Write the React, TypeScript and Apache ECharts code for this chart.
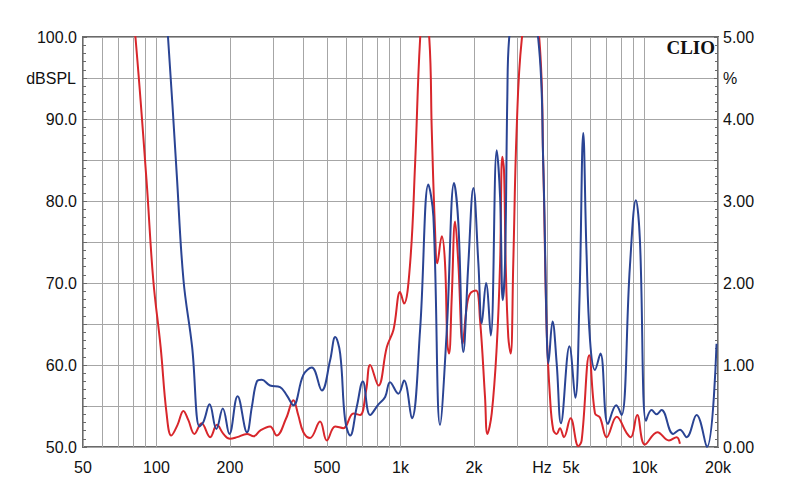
import React, { useEffect, useRef } from 'react';
import * as echarts from 'echarts';

const GRID_FREQS = [50, 60, 70, 80, 90, 100, 200, 300, 400, 500, 600, 700, 800, 900, 1000, 2000, 3000, 4000, 5000, 6000, 7000, 8000, 9000, 10000, 20000];
const LABEL_FREQS = [50, 100, 200, 500, 1000, 2000, 3800, 5000, 10000, 20000];
const LABEL_TEXTS = ['50', '100', '200', '500', '1k', '2k', 'Hz', '5k', '10k', '20k'];

const RED_FREQ = [80, 82, 91, 97, 104, 110, 115, 122, 129, 135, 143, 153, 166, 177, 188, 200, 214, 235, 250, 266, 292, 311, 340, 364, 381, 400, 426, 468, 499, 540, 584, 641, 683, 723, 751, 812, 879, 936, 996, 1034, 1095, 1148, 1203, 1249, 1313, 1343, 1385, 1415, 1476, 1522, 1556, 1581, 1622, 1674, 1726, 1799, 1868, 1928, 2040, 2118, 2220, 2270, 2365, 2479, 2559, 2612, 2655, 2698, 2765, 2829, 2898, 2992, 3140, 3395, 3707, 3845, 3972, 4098, 4225, 4365, 4502, 4675, 4977, 5355, 5525, 5935, 6265, 6565, 6995, 7690, 8450, 8790, 9330, 10035, 11295, 12590, 13535, 13965];
const RED_DB = [101.9, 100, 82.6, 70.4, 62.2, 54.1, 51.4, 52.7, 54.4, 53.3, 51.6, 52.9, 51.2, 52.7, 51.6, 51.0, 51.2, 51.6, 51.3, 52.0, 52.5, 51.4, 53.5, 55.7, 53.9, 51.8, 51.1, 53.1, 50.8, 52.5, 52.3, 54.1, 53.9, 56.9, 60.0, 57.5, 62.2, 64.3, 68.9, 67.5, 72.4, 84.6, 99.7, 103.9, 99.7, 88.7, 76.5, 72.4, 75.7, 72.4, 62.6, 61.4, 68.3, 77.5, 72.4, 62.6, 67.1, 68.7, 69.1, 65.5, 56.1, 51.6, 54.1, 62.2, 72.4, 85.4, 83.8, 72.4, 63.4, 61.4, 72.4, 88.7, 99.7, 104.6, 99.7, 84.6, 64.3, 56.1, 52.1, 51.6, 52.3, 51.2, 53.5, 50.1, 50.8, 61.2, 54.1, 53.6, 51.2, 53.7, 51.7, 51.2, 53.9, 50.3, 51.8, 50.8, 51.2, 50.4];

const BLUE_FREQ = [109, 111.5, 121, 129, 140, 150, 156, 165, 176, 187, 199, 215, 235, 246, 258, 270, 292, 321, 342, 364, 400, 433, 476, 515, 540, 566, 593, 622, 662, 701, 751, 812, 865, 906, 980, 1034, 1113, 1203, 1301, 1364, 1452, 1548, 1658, 1726, 1810, 1897, 1989, 2085, 2153, 2242, 2344, 2479, 2559, 2624, 2681, 2740, 2785, 3206, 3670, 3845, 3972, 4034, 4197, 4365, 4545, 4924, 5202, 5411, 5610, 5780, 5980, 6265, 6596, 7080, 7655, 8050, 8710, 9220, 9570, 10140, 10690, 11200, 11740, 13105, 13965, 14870, 16335, 18010, 19725];
const BLUE_DB = [102.7, 100, 83.4, 70.4, 62.2, 52.5, 53.1, 55.2, 52.2, 54.7, 51.6, 56.2, 51.8, 54.9, 58.0, 58.2, 57.5, 57.3, 56.3, 55.1, 58.8, 59.7, 56.9, 60.6, 63.4, 61.4, 53.3, 51.4, 54.9, 58.0, 53.9, 55.2, 56.1, 57.9, 56.5, 58.1, 53.5, 64.3, 82.0, 78.1, 52.7, 64.3, 82.2, 77.3, 61.6, 72.4, 81.6, 72.4, 65.1, 70.0, 63.6, 86.2, 80.5, 67.9, 72.4, 92.7, 99.7, 104.6, 99.7, 84.6, 64.3, 60.2, 65.3, 60.2, 52.9, 62.3, 56.0, 67.9, 88.3, 74.0, 63.0, 59.4, 61.4, 52.8, 55.1, 53.9, 72.0, 80.1, 75.3, 53.2, 54.5, 54.0, 54.5, 51.6, 52.1, 51.2, 53.9, 50.0, 62.6];

const FONT = 'Liberation Sans, Arial, sans-serif';

export default function App() {
  const ref = useRef<HTMLDivElement>(null);
  useEffect(() => {
    const chart = echarts.init(ref.current as HTMLDivElement, null, { renderer: 'svg' });
    const lg = (f: number) => Math.log10(f);
    const toData = (fs: number[], vs: number[]) => fs.map((f, i) => [lg(f), vs[i]]);
    const labelFor = (v: number) => {
      let best = '';
      let bd = 1e9;
      LABEL_FREQS.forEach((f, i) => {
        const d = Math.abs(lg(f) - v);
        if (d < bd) { bd = d; best = LABEL_TEXTS[i]; }
      });
      return bd < 0.01 ? best : '';
    };
    const isInt = (v: number) => Math.abs(v - Math.round(v)) < 1e-6;
    chart.setOption({
      animation: false,
      backgroundColor: '#ffffff',
      grid: { left: 83, right: 82, top: 37, bottom: 57, show: true, borderColor: '#6a6a6a', borderWidth: 2, backgroundColor: '#ffffff', containLabel: false },
      xAxis: {
        type: 'value',
        min: lg(50),
        max: lg(20000),
        axisLine: { show: false },
        axisTick: { show: false, customValues: GRID_FREQS.map(lg) },
        splitLine: { show: true, lineStyle: { color: '#a6a6a6', width: 1 } },
        axisLabel: {
          customValues: LABEL_FREQS.map(lg),
          formatter: labelFor,
          fontSize: 16,
          color: '#111',
          fontFamily: FONT,
          margin: 12,
          showMinLabel: true,
          showMaxLabel: true,
        },
      },
      yAxis: [
        {
          type: 'value',
          position: 'left',
          min: 50,
          max: 100,
          interval: 5,
          axisLine: { show: false },
          axisTick: { show: true, inside: true, length: 4, lineStyle: { color: '#6a6a6a' } },
          minorTick: { show: true, splitNumber: 5, length: 3, lineStyle: { color: '#6a6a6a' } },
          splitLine: { show: true, lineStyle: { color: '#a6a6a6', width: 1 } },
          axisLabel: { formatter: (v: number) => (isInt(v / 10) ? v.toFixed(1) : ''), fontSize: 16, color: '#111', fontFamily: FONT, margin: 6 },
        },
        {
          type: 'value',
          position: 'right',
          min: 0,
          max: 5,
          interval: 0.5,
          axisLine: { show: false },
          axisTick: { show: true, inside: true, length: 4, lineStyle: { color: '#6a6a6a' } },
          minorTick: { show: true, splitNumber: 5, length: 3, lineStyle: { color: '#6a6a6a' } },
          splitLine: { show: false },
          axisLabel: { formatter: (v: number) => (isInt(v) ? v.toFixed(2) : ''), fontSize: 16, color: '#111', fontFamily: FONT, margin: 5 },
        },
      ],
      graphic: [
        { type: 'text', right: 724, top: 70, style: { text: 'dBSPL', fontSize: 16, fill: '#111', fontFamily: FONT } },
        { type: 'text', left: 723, top: 70, style: { text: '%', fontSize: 16, fill: '#111', fontFamily: FONT } },
        { type: 'text', right: 85, top: 38, z: 100, style: { text: 'CLIO', fontSize: 19, fontWeight: 'bold', fill: '#111', fontFamily: 'Liberation Serif, Times New Roman, serif' } },
      ],
      series: [
        {
          type: 'line',
          data: toData(RED_FREQ, RED_DB),
          yAxisIndex: 0,
          showSymbol: false,
          smooth: 0.4,
          clip: true,
          lineStyle: { color: '#d8262b', width: 2 },
          z: 3,
        },
        {
          type: 'line',
          data: toData(BLUE_FREQ, BLUE_DB),
          yAxisIndex: 0,
          showSymbol: false,
          smooth: 0.4,
          clip: true,
          lineStyle: { color: '#2a4494', width: 2 },
          z: 4,
        },
      ],
    });
    return () => chart.dispose();
  }, []);
  return <div ref={ref} style={{ position: 'absolute', left: 0, top: 0, width: 800, height: 504 }} />;
}
